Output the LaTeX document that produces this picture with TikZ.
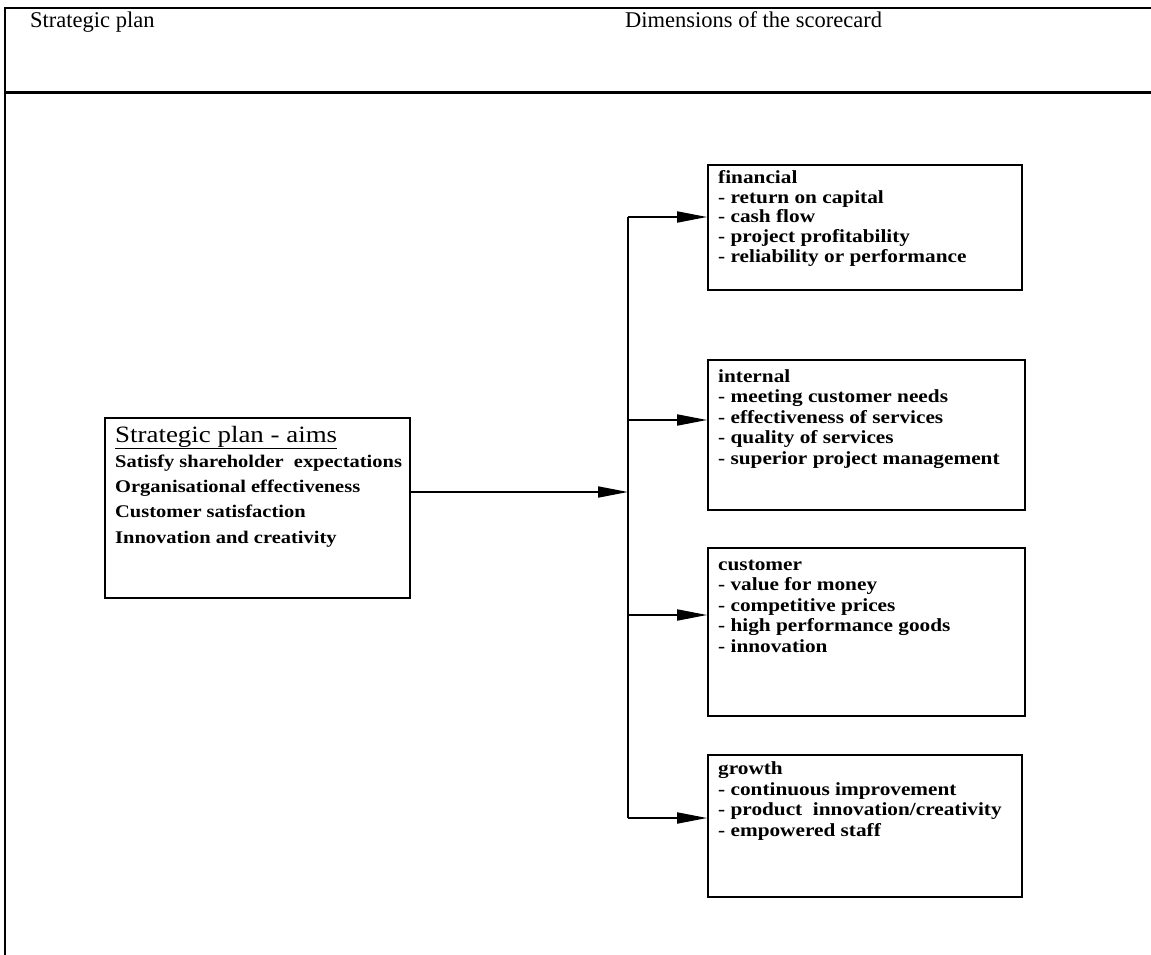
\documentclass[tikz,border=0pt]{standalone}
\usepackage{fontspec}
\setmainfont{Liberation Serif}
\newfontfamily\widefont[FakeStretch=1.15]{Liberation Serif}
\usetikzlibrary{arrows.meta}
\begin{document}
\begin{tikzpicture}[x=1pt,y=-1pt,
  frame/.style={line width=1.6pt},
  box/.style={draw,line width=1.8pt,rectangle,inner sep=0pt},
  % multi-line text: the base anchor sits on the last line's baseline
  boxtext/.style={anchor=base west,inner sep=0pt,align=left,
    font=\widefont\bfseries\fontsize{18.5}{20.4}\selectfont},
  head/.style={anchor=base west,inner sep=0pt,font=\fontsize{22.5}{24}\selectfont},
  link/.style={line width=1.8pt,-{Triangle[length=30pt,width=11pt]}},
  bus/.style={line width=1.8pt}]
\useasboundingbox (0,0) rectangle (1151,955);
\fill[white] (0,0) rectangle (1151,955);

% page frame and header rule
\coordinate (tr) at (1151,8);
\coordinate (tl) at (5,8);
\coordinate (bl) at (5,955);
\draw[frame] (tr) -- (tl) -- (bl);
\coordinate (hl) at (5,93);
\coordinate (hr) at (1151,93);
\draw[line width=3pt] (hl) -- (hr);
\node[head] (h1) at (30,28) {Strategic plan};
\node[head] (h2) at (625,28) {Dimensions of the scorecard};

% aims box
\node[box,minimum width=305pt,minimum height=180pt] (aims) at (257.5,508) {};
\node[anchor=base west,inner sep=0pt,font=\widefont\fontsize{23.4}{26}\selectfont]
  (aimst) at (115,442) {\underline{Strategic plan - aims}};
\node[boxtext,font=\widefont\bfseries\fontsize{17.8}{25.3}\selectfont] (aimsl)
  at (115,543) {Satisfy shareholder\ \ expectations\\Organisational effectiveness\\Customer satisfaction\\Innovation and creativity};

% dimension boxes
\node[box,minimum width=314pt,minimum height=125pt] (fin) at (865,227.5) {};
\node[boxtext,font=\widefont\bfseries\fontsize{18.5}{19.6}\selectfont] (fint) at (718,262)
  {financial\\- return on capital\\- cash flow\\- project profitability\\- reliability or performance};

\node[box,minimum width=317pt,minimum height=150pt] (int) at (866.5,435) {};
\node[boxtext] (intt) at (718,464)
  {internal\\- meeting customer needs\\- effectiveness of services\\- quality of services\\- superior project management};

\node[box,minimum width=317pt,minimum height=168pt] (cus) at (866.5,632) {};
\node[boxtext] (cust) at (718,652)
  {customer\\- value for money\\- competitive prices\\- high performance goods\\- innovation};

\node[box,minimum width=314pt,minimum height=142pt] (gro) at (865,826) {};
\node[boxtext] (grot) at (718,836)
  {growth\\- continuous improvement\\- product\ \ innovation/creativity\\- empowered staff};

% distribution bus
\coordinate (b1) at (628,217);
\coordinate (b2) at (628,420);
\coordinate (bm) at (628,492);
\coordinate (b3) at (628,615);
\coordinate (b4) at (628,818);
\draw[bus] (b1) -- (b4);
\draw[link] (bm -| aims.east) -- (bm);
\draw[link] (b1) -- (b1 -| fin.west);
\draw[link] (b2) -- (b2 -| int.west);
\draw[link] (b3) -- (b3 -| cus.west);
\draw[link] (b4) -- (b4 -| gro.west);
\end{tikzpicture}
\end{document}
